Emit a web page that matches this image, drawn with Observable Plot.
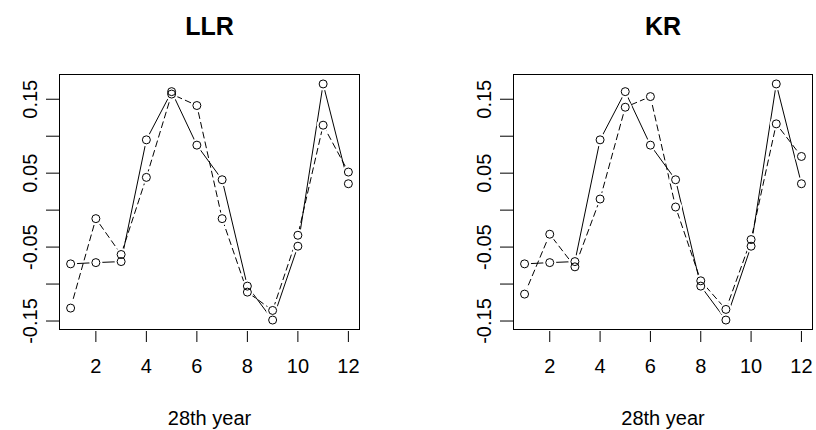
<!DOCTYPE html>
<html><head><meta charset="utf-8">
<script src="https://cdn.jsdelivr.net/npm/d3@7"></script>
<script src="https://cdn.jsdelivr.net/npm/@observablehq/plot@0.6"></script>
<style>
body{margin:0;background:#fff;}
#wrap{display:flex;width:816px;height:430px;}
#wrap svg{display:block;}
</style></head><body><div id="wrap"></div>
<script>
// ---- data ----
const months = [1, 2, 3, 4, 5, 6, 7, 8, 9, 10, 11, 12];
const actual = [-0.0727, -0.0710, -0.0696, 0.0951, 0.1603, 0.0879, 0.0411, -0.1028, -0.1487, -0.0488, 0.1707, 0.0357];
const llrFit = [-0.1325, -0.0115, -0.0600, 0.0443, 0.1570, 0.1415, -0.0115, -0.1109, -0.1357, -0.0340, 0.1149, 0.0515];
const krFit  = [-0.1136, -0.0326, -0.0767, 0.0150, 0.1392, 0.1536, 0.0042, -0.0956, -0.1343, -0.0398, 0.1167, 0.0726];
const panelTitles = ["LLR", "KR"];
const xTicks = [2, 4, 6, 8, 10, 12];
const yTicks = [-0.15, -0.10, -0.05, 0, 0.05, 0.10, 0.15];
const yLabelled = [-0.15, -0.05, 0.05, 0.15];
const xLabel = "28th year";

const FONT = '"Liberation Sans", Arial, sans-serif';
function padded(vals) {
  const [lo, hi] = d3.extent(vals);
  const p = 0.04 * (hi - lo);
  return [lo - p, hi + p];
}

function panel(title, fit, m) {
  const xDom = padded(months);
  const yDom = padded(actual.concat(fit));
  const line = (arr, extra) => Plot.line(months, {x: d => d, y: (d, i) => arr[i], stroke: "black", strokeWidth: 1, ...extra});
  const dots = (arr, extra) => Plot.dot(months, {x: d => d, y: (d, i) => arr[i], ...extra});
  return Plot.plot({
    width: 408, height: 430,
    marginLeft: m.left, marginRight: m.right, marginTop: 74, marginBottom: 101,
    style: {fontFamily: FONT, fontSize: "20px", color: "black", background: "white", overflow: "visible"},
    x: {domain: xDom},
    y: {domain: yDom},
    marks: [
      line(actual, {}),
      line(fit, {strokeDasharray: "6,4"}),
      dots(actual, {r: 6.5, fill: "white"}),
      dots(fit, {r: 6.5, fill: "white"}),
      dots(actual, {r: 4, stroke: "black", fill: "none", strokeWidth: 1}),
      dots(fit, {r: 4, stroke: "black", fill: "none", strokeWidth: 1}),
      Plot.frame({stroke: "black", strokeWidth: 1}),
      Plot.axisX(xTicks, {tickSize: 11, dy: 2, tickPadding: 16, fontSize: 20, tickFormat: d => String(d),
        label: xLabel, labelAnchor: "center", labelArrow: "none", labelOffset: 95}),
      Plot.axisY(yTicks, {tickSize: 13, tickRotate: -90, tickPadding: 10, fontSize: 20,
        tickFormat: d => yLabelled.includes(d) ? d.toFixed(2) : "", label: null}),
      Plot.text([title], {frameAnchor: "top", dy: -40, lineAnchor: "bottom", fontSize: 25, fontWeight: "bold"})
    ]
  });
}

const wrap = document.getElementById("wrap");
wrap.appendChild(panel(panelTitles[0], llrFit, {left: 59, right: 49}));
wrap.appendChild(panel(panelTitles[1], krFit, {left: 105, right: 4}));
</script></body></html>
